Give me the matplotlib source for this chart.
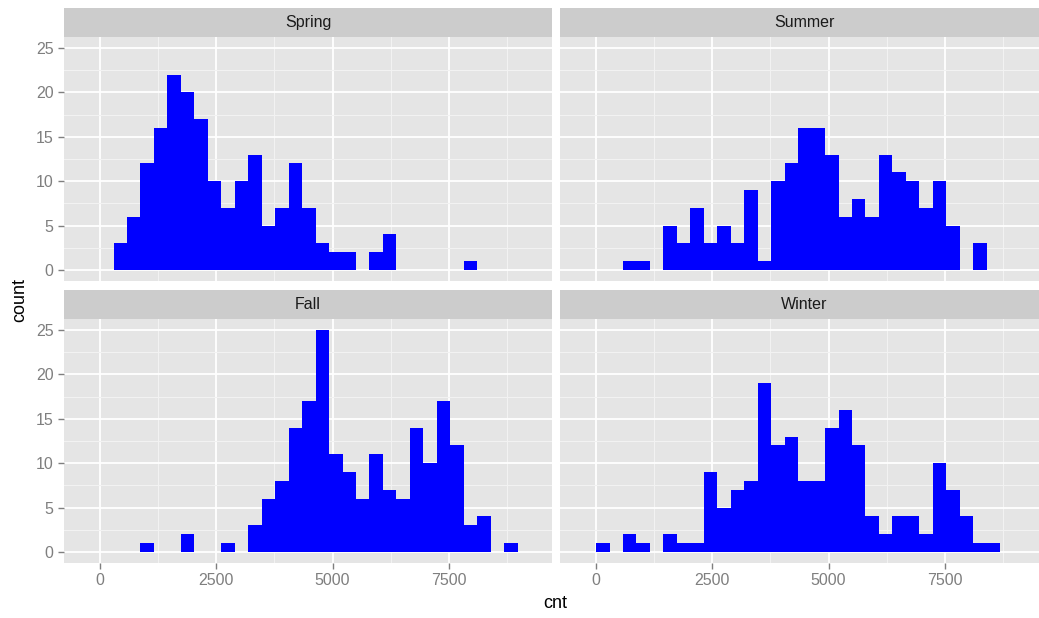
import numpy as np
import matplotlib
matplotlib.use("Agg")
import matplotlib.pyplot as plt

# Daily rental counts, histogram with 30 bins of width range/30, one list per season
CNT_MIN, CNT_MAX = 22, 8714
BINWIDTH = (CNT_MAX - CNT_MIN) / 30
EDGES = np.arange(32) * BINWIDTH

seasons = ["Spring", "Summer", "Fall", "Winter"]

spring = [0, 3, 6, 12, 16, 22, 20, 17, 10, 7, 10, 13, 5, 7, 12, 7,
          3, 2, 2, 0, 2, 4, 0, 0, 0, 0, 0, 1, 0, 0, 0]
summer = [0, 0, 1, 1, 0, 5, 3, 7, 3, 5, 3, 9, 1, 10, 12, 16,
          16, 13, 6, 8, 6, 13, 11, 10, 7, 10, 5, 0, 3, 0, 0]
fall = [0, 0, 0, 1, 0, 0, 2, 0, 0, 1, 0, 3, 6, 8, 14, 17,
        25, 11, 9, 6, 11, 7, 6, 14, 10, 17, 12, 3, 4, 0, 1]
winter = [1, 0, 2, 1, 0, 2, 1, 1, 9, 5, 7, 8, 19, 12, 13, 8,
          8, 14, 16, 12, 4, 2, 4, 4, 2, 10, 7, 4, 1, 1, 0]

counts = {"Spring": spring, "Summer": summer, "Fall": fall, "Winter": winter}

x_major = [0, 2500, 5000, 7500]
x_minor = [1250, 3750, 6250, 8750]
y_major = [0, 5, 10, 15, 20, 25]
y_minor = [2.5, 7.5, 12.5, 17.5, 22.5]

# ggplot2 grey theme colours
PANEL_BG = "#E5E5E5"
STRIP_BG = "#CCCCCC"
GRID_MINOR = "#F2F2F2"
AXIS_GREY = "#7F7F7F"

plt.rcParams["font.family"] = ["Liberation Sans", "DejaVu Sans"]

W, H = 1039, 618
fig = plt.figure(figsize=(W / 100, H / 100), dpi=100, facecolor="white")


def px_rect(x0, y0, x1, y1):
    return [x0 / W, 1 - y1 / H, (x1 - x0) / W, (y1 - y0) / H]


cols = [(64, 552), (560, 1048)]
rows = [(37, 281), (319, 563)]
strip_h = 29.5

for i, season in enumerate(seasons):
    r, c = divmod(i, 2)
    x0, x1 = cols[c]
    y0, y1 = rows[r]

    ax = fig.add_axes(px_rect(x0, y0, x1, y1))
    ax.set_facecolor(PANEL_BG)
    for s in ax.spines.values():
        s.set_visible(False)

    ax.set_xlim(-775, 9720)
    ax.set_ylim(-1.25, 26.25)
    ax.set_xticks(x_major)
    ax.set_xticks(x_minor, minor=True)
    ax.set_yticks(y_major)
    ax.set_yticks(y_minor, minor=True)
    ax.grid(True, which="minor", color=GRID_MINOR, lw=0.8, zorder=0)
    ax.grid(True, which="major", color="white", lw=1.3, zorder=0)
    ax.set_axisbelow(True)

    ax.bar(EDGES[:-1], counts[season], width=BINWIDTH, align="edge",
           color="#0000FF", edgecolor="none", lw=0, zorder=3)

    ax.tick_params(which="minor", length=0)
    ax.tick_params(which="major", colors=AXIS_GREY, labelcolor=AXIS_GREY,
                   labelsize=11.5, length=4, width=1)
    if c == 0:
        ax.set_yticklabels([str(v) for v in y_major])
    else:
        ax.tick_params(axis="y", length=0, labelleft=False)
    if r == 1:
        ax.set_xticklabels([str(v) for v in x_major])
    else:
        ax.tick_params(axis="x", length=0, labelbottom=False)

    # facet strip
    sax = fig.add_axes(px_rect(x0, y0 - strip_h, x1, y0))
    sax.set_facecolor(STRIP_BG)
    sax.set_xticks([])
    sax.set_yticks([])
    for s in sax.spines.values():
        s.set_visible(False)
    sax.text(((cols[0][1] - cols[0][0]) / 2) / (x1 - x0), 0.5, season,
             ha="center", va="center", fontsize=11.5, color="#1A1A1A",
             transform=sax.transAxes)

fig.text(20 / W, 1 - 300 / H, "count", rotation=90, ha="center", va="center",
         fontsize=13, color="black")
fig.text(555 / W, 1 - 603 / H, "cnt", ha="center", va="center",
         fontsize=13, color="black")

fig.savefig("out.png", dpi=100, facecolor="white")
